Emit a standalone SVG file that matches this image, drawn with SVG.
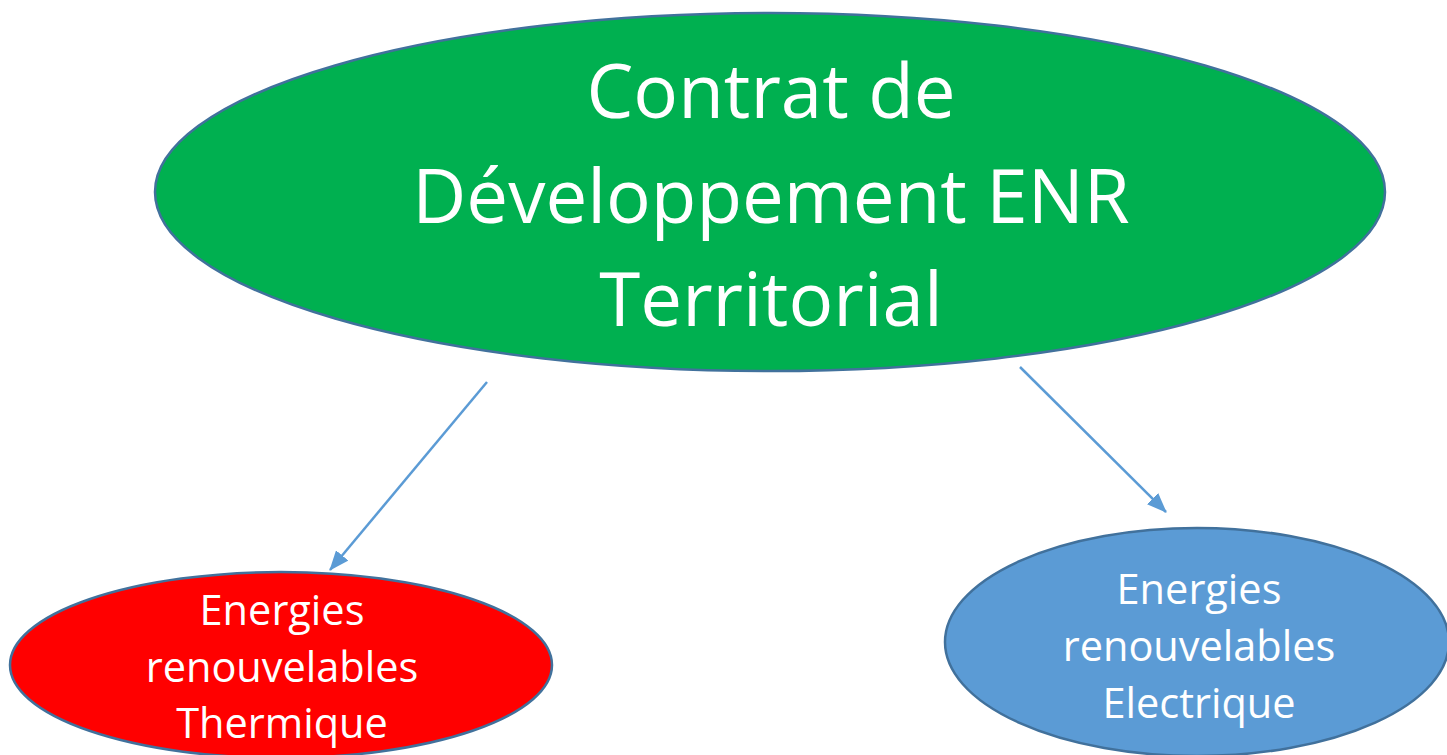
<svg xmlns="http://www.w3.org/2000/svg" width="1447" height="755" viewBox="0 0 1447 755">
<style>
.node{stroke:#41719C;stroke-width:2.5}
.t{font-family:"Open Sans","Noto Sans",sans-serif;fill:#fff;text-anchor:middle}
.big{font-size:74.5px}
.small{font-size:41.5px}
.conn{stroke:#5B9BD5;stroke-width:2.5;fill:none}
</style>
<defs>
<marker id="ahb" markerWidth="20" markerHeight="16" refX="19" refY="8" orient="auto" markerUnits="userSpaceOnUse" viewBox="0 0 20 16">
<path d="M0,0 L20,8 L0,16 Z" fill="#5B9BD5"/>
</marker>
</defs>
<rect width="1447" height="755" fill="#fff"/>
<g id="connectors">
<line class="conn" x1="487" y1="382" x2="330" y2="570" marker-end="url(#ahb)"/>
<line class="conn" x1="1020" y1="367" x2="1166" y2="512" marker-end="url(#ahb)"/>
</g>
<g id="main">
<ellipse class="node" cx="770" cy="192" rx="615" ry="179" fill="#00B050" stroke="#4F6DA8"/>
<text class="t big" x="771" y="118">Contrat de</text>
<text class="t big" x="771" y="223">Développement ENR</text>
<text class="t big" x="771" y="326">Territorial</text>
</g>
<g id="thermique">
<ellipse class="node" cx="281" cy="665" rx="271" ry="93" fill="#FF0000"/>
<text class="t small" x="282" y="625">Energies</text>
<text class="t small" x="282" y="682">renouvelables</text>
<text class="t small" x="282" y="738">Thermique</text>
</g>
<g id="electrique">
<ellipse class="node" cx="1197" cy="642" rx="252" ry="114" fill="#5B9BD5"/>
<text class="t small" x="1199" y="604">Energies</text>
<text class="t small" x="1199" y="661">renouvelables</text>
<text class="t small" x="1199" y="718">Electrique</text>
</g>
</svg>
